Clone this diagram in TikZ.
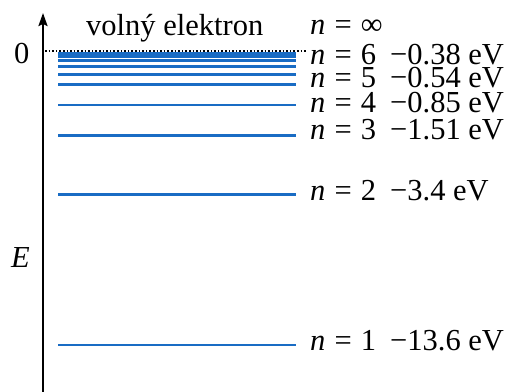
\documentclass[tikz,border=0pt]{standalone}
\usepackage{fontspec}
\setmainfont{Liberation Serif}
\usetikzlibrary{arrows.meta}
\definecolor{levelblue}{RGB}{25,108,196}
\newcommand{\nlab}[1]{\textit{n}\kern0.3em=\kern0.3em#1}
\begin{document}
\begin{tikzpicture}[x=1pt,y=-1pt,
  lvl/.style={levelblue,line width=2.7pt},
  lbl/.style={anchor=base west,inner sep=0pt,font=\fontsize{30.5}{32}\selectfont},
  rowlbl/.style={lbl,text height=0.7em,text depth=0pt},
  axis/.style={line width=2.2pt,-{Stealth[length=13pt,width=9pt,inset=2pt]}}]
\useasboundingbox (0,0) rectangle (510,391);
% axis
\coordinate (ab) at (43,392);
\coordinate (at) at (43,13);
\draw[axis] (ab) -- (at);
% zero dotted line
\coordinate (z0) at (45,51);
\coordinate (z1) at (306,51);
\draw[line width=1.6pt,dotted] (z0) -- (z1);
% levels
\foreach \y [count=\i] in {345,194.3,135.3,105,84.4,74.8,66.8,60.8,57,55,53.5}{
  \coordinate (l\i a) at (58,\y);
  \coordinate (l\i b) at (296,\y);
  \draw[lvl] (l\i a) -- (l\i b);
}
% texts
\node[lbl] (zero) at (14,63) {0};
\node[lbl] (E) at (11,267) {\itshape E};
\node[lbl] (free) at (86,35) {volný elektron};
\node[rowlbl] (ninf) at (310,34) {\nlab{∞}};
\node[rowlbl] (n6) at (310,64) {\nlab{6}};
\node[rowlbl] (n5) at (310,87) {\nlab{5}};
\node[rowlbl] (n4) at (310,112) {\nlab{4}};
\node[rowlbl] (n3) at (310,139) {\nlab{3}};
\node[rowlbl] (n2) at (310,200) {\nlab{2}};
\node[rowlbl] (n1) at (310,350) {\nlab{1}};
\node[rowlbl] (e6) at (390,64) {−0.38 eV};
\node[rowlbl] (e5) at (390,87) {−0.54 eV};
\node[rowlbl] (e4) at (390,112) {−0.85 eV};
\node[rowlbl] (e3) at (390,139) {−1.51 eV};
\node[rowlbl] (e2) at (390,200) {−3.4 eV};
\node[rowlbl] (e1) at (390,350) {−13.6 eV};
\end{tikzpicture}
\end{document}
